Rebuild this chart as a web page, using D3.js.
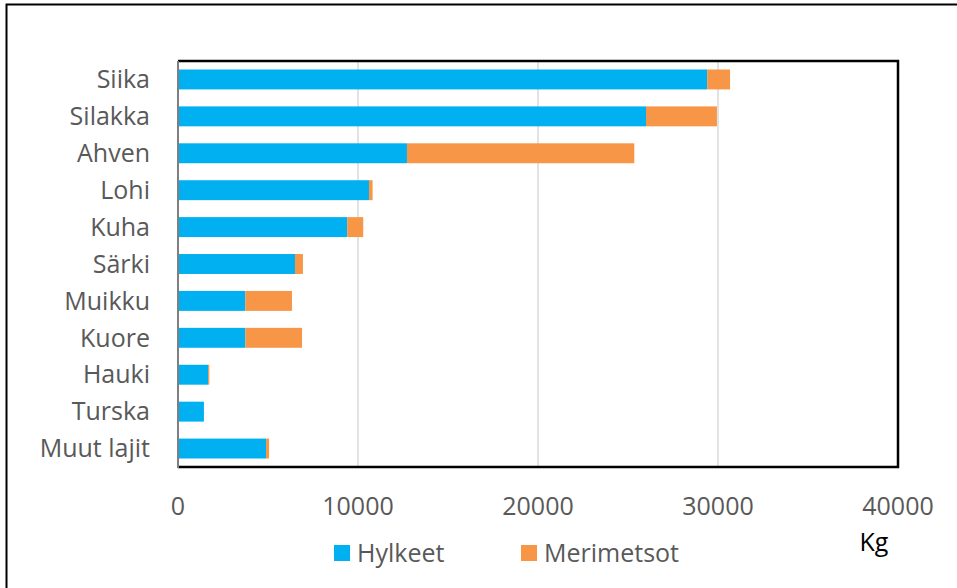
<!DOCTYPE html>
<html>
<head>
<meta charset="utf-8">
<script src="https://cdn.jsdelivr.net/npm/d3@7"></script>
<style>
  body { margin: 0; background: #fff; }
  svg text { font-family: "Open Sans", sans-serif; }
</style>
</head>
<body>
<svg id="chart" width="957" height="588"></svg>
<script>
// kalalajit ja saalis (kg)
var species = ["Siika", "Silakka", "Ahven", "Lohi", "Kuha", "Särki", "Muikku", "Kuore", "Hauki", "Turska", "Muut lajit"];
var hylkeet = [29400, 26000, 12720, 10610, 9400, 6500, 3740, 3740, 1670, 1440, 4890];
var merimetsot = [1270, 3940, 12630, 200, 890, 440, 2590, 3150, 70, 0, 170];
var seriesNames = ["Hylkeet", "Merimetsot"];
var colors = ["#00b0f0", "#f79646"];
var xTicks = [0, 10000, 20000, 30000, 40000];

var svg = d3.select("#chart");
var margin = {left: 178, top: 61, right: 898, bottom: 467};
var fontSize = 25;

var rows = species.map(function(s, i) {
  return {name: s, Hylkeet: hylkeet[i], Merimetsot: merimetsot[i]};
});
var stacked = d3.stack().keys(seriesNames)(rows);

var x = d3.scaleLinear().domain([0, 40000]).range([margin.left, margin.right]);
var y = d3.scaleBand().domain(species).range([margin.top, margin.bottom]).paddingInner(0.46).paddingOuter(0.23);

// outer frame (only top and left visible)
svg.append("path")
  .attr("d", "M6.5,590 V4.5 H960")
  .attr("fill", "none")
  .attr("stroke", "#000")
  .attr("stroke-width", 2);

// gridlines
svg.append("g")
  .selectAll("line")
  .data(xTicks.slice(1, -1))
  .enter().append("line")
    .attr("x1", function(d) { return x(d); })
    .attr("x2", function(d) { return x(d); })
    .attr("y1", margin.top)
    .attr("y2", margin.bottom)
    .attr("stroke", "#d9d9d9")
    .attr("stroke-width", 1.5);

// bars
svg.append("g")
  .selectAll("g")
  .data(stacked)
  .enter().append("g")
    .attr("fill", function(d, i) { return colors[i]; })
  .selectAll("rect")
  .data(function(d) { return d; })
  .enter().append("rect")
    .attr("x", function(d) { return x(d[0]); })
    .attr("width", function(d) { return x(d[1]) - x(d[0]); })
    .attr("y", function(d) { return y(d.data.name); })
    .attr("height", y.bandwidth());

// plot frame
svg.append("path")
  .attr("d", "M" + margin.left + "," + margin.top + " H" + margin.right + " V" + margin.bottom + " H" + margin.left)
  .attr("fill", "none")
  .attr("stroke", "#000")
  .attr("stroke-width", 2.5);
svg.append("line")
  .attr("x1", margin.left).attr("x2", margin.left)
  .attr("y1", margin.top).attr("y2", margin.bottom + 1)
  .attr("stroke", "#7f7f7f")
  .attr("stroke-width", 2);

// category labels
svg.append("g")
  .selectAll("text")
  .data(species)
  .enter().append("text")
    .attr("x", 150)
    .attr("y", function(d) { return y(d) + y.bandwidth() / 2; })
    .attr("dy", "0.35em")
    .attr("text-anchor", "end")
    .attr("font-size", fontSize)
    .attr("fill", "#595959")
    .text(function(d) { return d; });

// x tick labels
svg.append("g")
  .selectAll("text")
  .data(xTicks)
  .enter().append("text")
    .attr("x", function(d) { return x(d); })
    .attr("y", 515)
    .attr("text-anchor", "middle")
    .attr("font-size", fontSize)
    .attr("fill", "#595959")
    .text(function(d) { return d; });

svg.append("text")
  .attr("x", 874)
  .attr("y", 551)
  .attr("text-anchor", "middle")
  .attr("font-size", fontSize)
  .attr("fill", "#000")
  .text("Kg");

// legend
var legendX = [334, 521];
var legend = svg.append("g")
  .selectAll("g")
  .data(seriesNames)
  .enter().append("g")
    .attr("transform", function(d, i) { return "translate(" + legendX[i] + ",545)"; });
legend.append("rect")
  .attr("width", 16)
  .attr("height", 16)
  .attr("fill", function(d, i) { return colors[i]; });
legend.append("text")
  .attr("x", 23)
  .attr("y", 17)
  .attr("font-size", fontSize)
  .attr("fill", "#595959")
  .text(function(d) { return d; });
</script>
</body>
</html>
